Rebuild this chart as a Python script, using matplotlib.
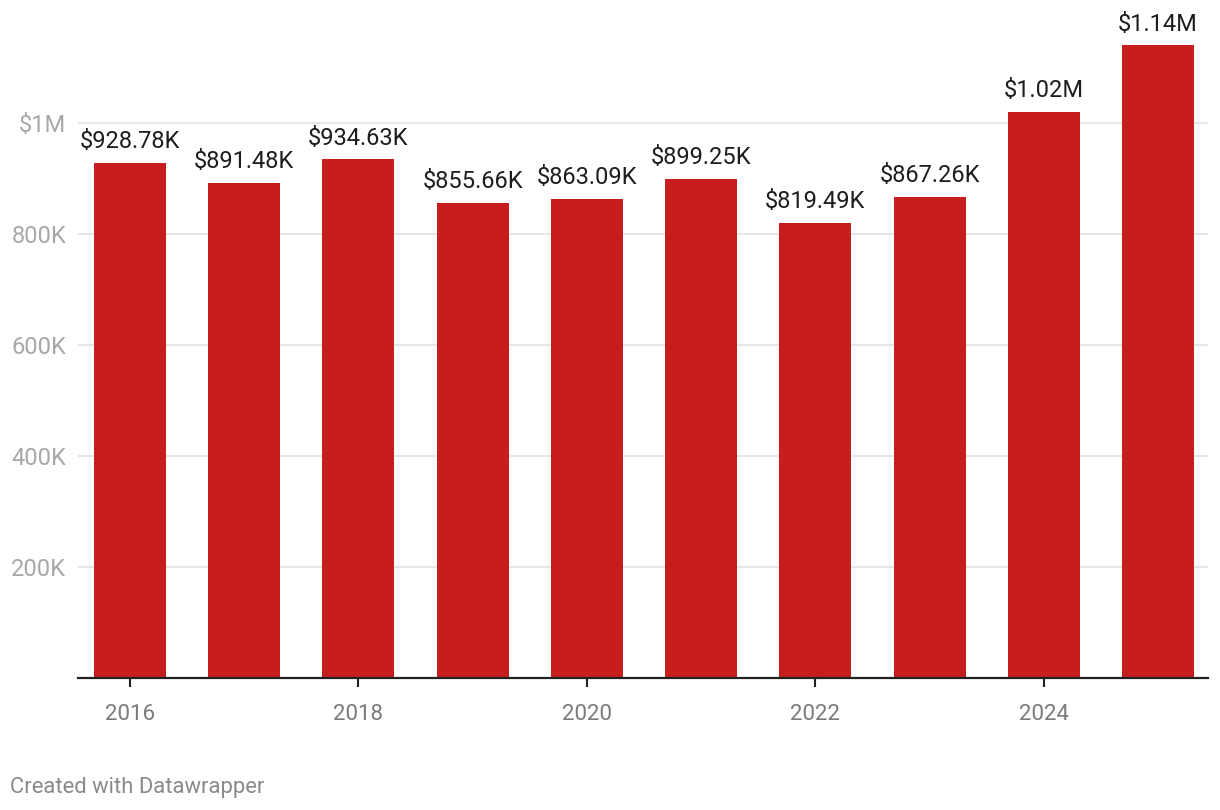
import matplotlib.pyplot as plt

# valores por año
years = [2016, 2017, 2018, 2019, 2020, 2021, 2022, 2023, 2024, 2025]
values = [928780, 891480, 934630, 855660, 863090, 899250, 819490, 867260, 1020000, 1140000]
labels = ['$928.78K', '$891.48K', '$934.63K', '$855.66K', '$863.09K',
          '$899.25K', '$819.49K', '$867.26K', '$1.02M', '$1.14M']
ytick_vals = [200000, 400000, 600000, 800000, 1000000]
ytick_labels = ['200K', '400K', '600K', '800K', '$1M']
xtick_years = [2016, 2018, 2020, 2022, 2024]

plt.rcParams['font.family'] = ['Roboto', 'DejaVu Sans']

fig = plt.figure(figsize=(12.2, 8.1), dpi=100)
ax = fig.add_axes([78 / 1220, (810 - 678) / 810, (1208 - 78) / 1220, 678 / 810])

ax.bar(years, values, width=0.63, color='#c71e1d', zorder=2)

for x, v, t in zip(years, values, labels):
    ax.annotate(t, (x, v), xytext=(0, 10.6), textcoords='offset points',
                ha='center', va='baseline', fontsize=17, color='#1d1d1d',
                annotation_clip=False)

ax.set_xlim(2016 - 0.455, 2025 + 0.438)
ax.set_ylim(0, 1.2216e6)

ax.set_yticks(ytick_vals)
ax.set_yticklabels(ytick_labels)
ax.yaxis.grid(True, color='#e3e3e3', linewidth=1.2, zorder=0)
ax.tick_params(axis='y', length=0, pad=8.6, labelsize=17, labelcolor='#a8a8a8')

ax.set_xticks(xtick_years)
ax.set_xticklabels([str(y) for y in xtick_years])
ax.tick_params(axis='x', length=6.5, width=1.5, color='#222222', pad=12.5,
               labelsize=16, labelcolor='#7a7a7a')

for s in ['top', 'right', 'left']:
    ax.spines[s].set_visible(False)
ax.spines['bottom'].set_color('#222222')
ax.spines['bottom'].set_linewidth(1.6)
ax.spines['bottom'].set_zorder(3)

fig.text(10 / 1220, 1 - 787 / 810, 'Created with Datawrapper', fontsize=15.8,
         color='#8a8a8a', ha='left', va='center')

fig.savefig('out.png', dpi=100)
